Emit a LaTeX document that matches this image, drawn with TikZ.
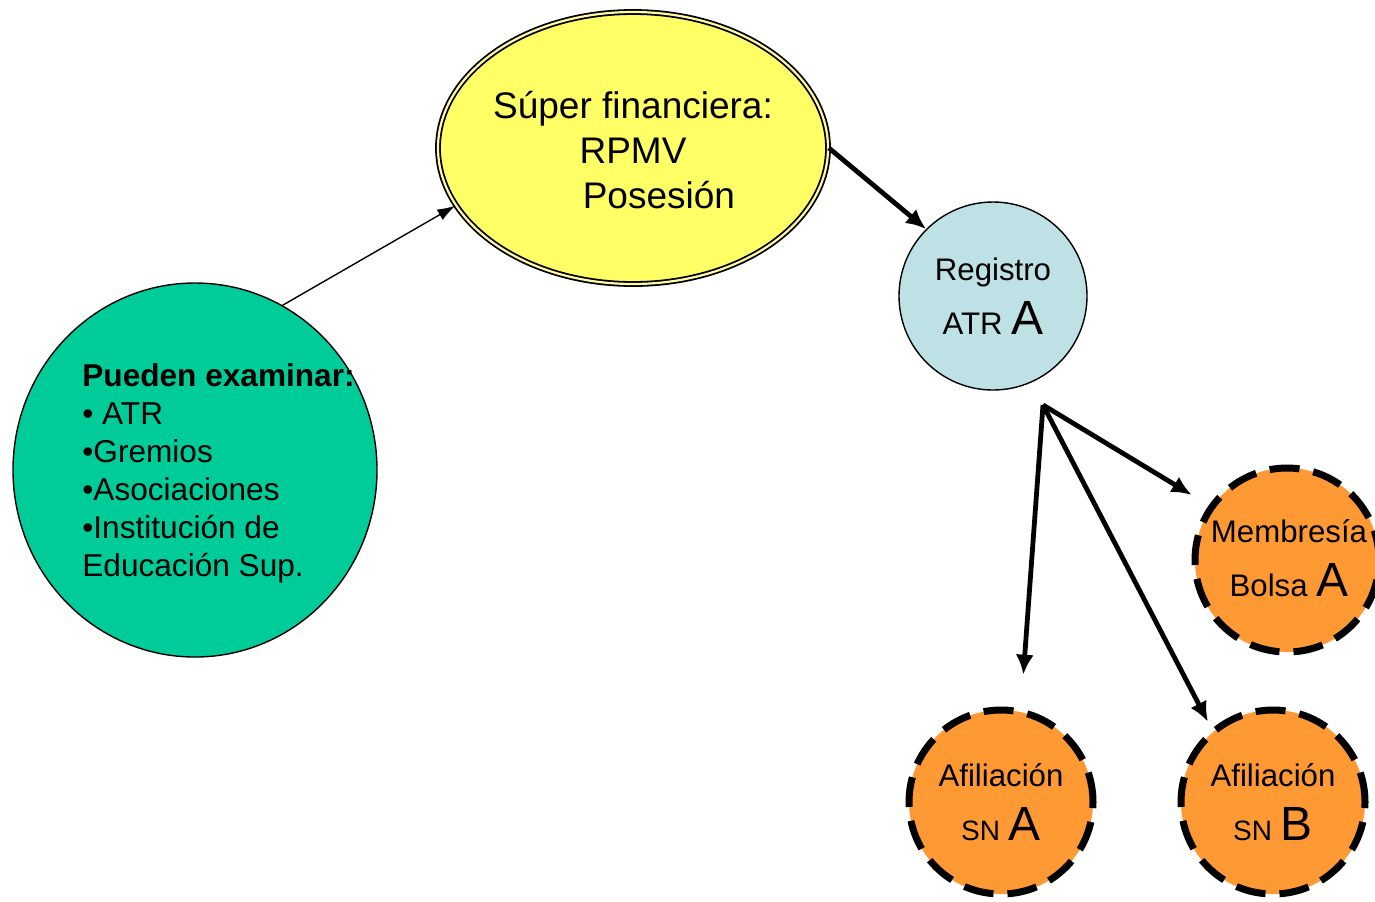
\documentclass[tikz,border=0pt]{standalone}
\usepackage{fontspec}
\setmainfont{Liberation Sans}
\usetikzlibrary{shapes.geometric,arrows.meta,calc}
\definecolor{supyellow}{RGB}{255,255,102}
\definecolor{regblue}{RGB}{189,225,229}
\definecolor{exgreen}{RGB}{0,204,153}
\definecolor{memorange}{RGB}{255,153,51}
\newcommand{\bigletter}[1]{{\fontsize{24}{27}\selectfont #1}}
\newcommand{\snletters}[1]{{\fontsize{14}{27}\selectfont #1}}
\tikzset{every picture/.append style={x=0.5pt,y=-0.5pt}}
\tikzset{supnode/.style={ellipse,draw=black,line width=0.9pt,double=yellow!35!white,double distance=1.1pt,fill=supyellow,minimum width=195pt,minimum height=136pt}}
\tikzset{regnode/.style={circle,draw,line width=0.7pt,fill=regblue,minimum size=94pt,inner sep=0pt}}
\tikzset{exnode/.style={ellipse,draw,line width=0.7pt,fill=exgreen,minimum width=182pt,minimum height=187pt,inner sep=0pt}}
\tikzset{dashnode/.style={circle,draw,line width=3.5pt,dash pattern=on 15pt off 7pt,fill=memorange,minimum size=92pt,inner sep=0pt}}
\tikzset{circtext/.style={align=center,font=\fontsize{15.6}{27}\selectfont}}
\tikzset{thinarc/.style={-{Latex[length=9pt,width=6pt]},line width=0.7pt}}
\tikzset{fatarc/.style={-{Latex[length=10pt,width=9pt]},line width=2.4pt}}
\begin{document}
\begin{tikzpicture}
\useasboundingbox (0,0) rectangle (1375,901);
%shapes
\node (sup) at (633,148)[supnode]{};
\node (grn) at (195,470)[exnode]{};
\node (reg) at (993,296)[regnode]{};
\node (mem) at (1287,560)[dashnode]{};
\node (afa) at (1001,802)[dashnode]{};
\node (afb) at (1273,802)[dashnode]{};
\coordinate (fork) at (1043,405);

%arrows
\draw[thinarc] (grn.62)--(sup.198);
\draw[fatarc] (sup.east)--(reg.135);
\draw[fatarc, shorten >=17pt] (fork)--(afa.78);
\draw[fatarc, shorten >=4pt] (fork)--(afb.130);
\draw[fatarc, shorten >=10pt] (fork)--(mem.145);

%texts
\node (suptxt) at (633,150)[align=center,font=\fontsize{18.5}{22.5}\selectfont]{Súper financiera:\\RPMV\\\hspace*{1.4em}Posesión};
\node (grntxt) at (82,473)[anchor=west,inner sep=0pt,align=left,font=\fontsize{15.8}{19}\selectfont]{\textbf{Pueden examinar:}\\• ATR\\•Gremios\\•Asociaciones\\•Institución de\\Educación Sup.};
\node (regtxt) at (reg)[circtext]{Registro\\ATR \bigletter{A}};
\node (memtxt) at (1289,558)[circtext]{Membresía\\Bolsa \bigletter{A}};
\node (afatxt) at (afa)[circtext]{Afiliación\\\snletters{SN} \bigletter{A}};
\node (afbtxt) at (afb)[circtext]{Afiliación\\\snletters{SN} \bigletter{B}};
\end{tikzpicture}
\end{document}
